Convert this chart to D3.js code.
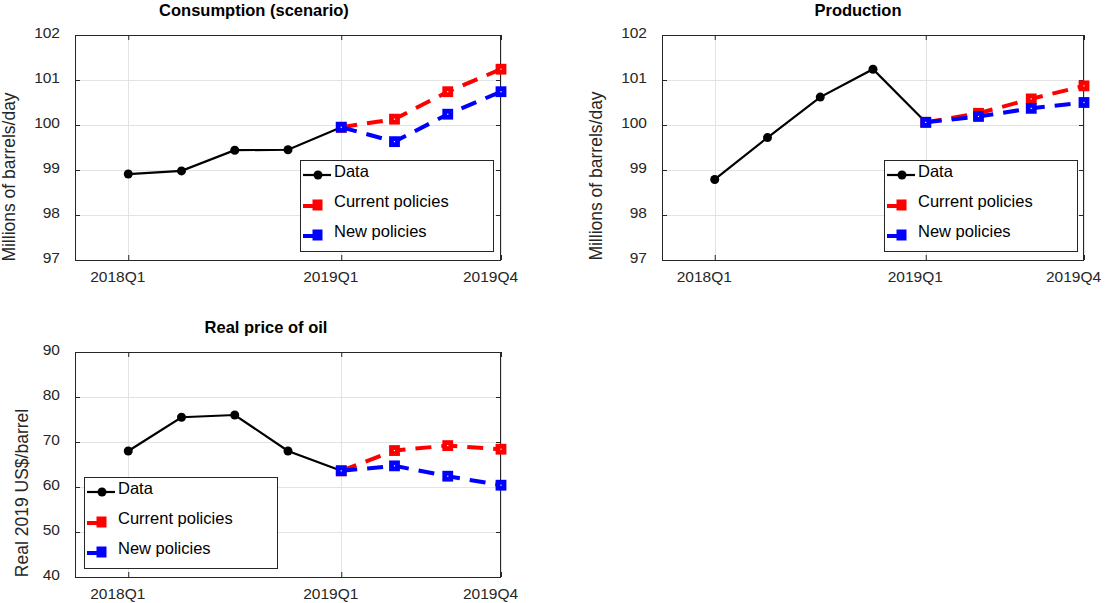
<!DOCTYPE html>
<html>
<head>
<meta charset="utf-8">
<script src="https://cdn.jsdelivr.net/npm/d3@7"></script>
<style>
  html, body { margin: 0; padding: 0; background: #fff; }
  svg { display: block; font-family: "Liberation Sans", Arial, sans-serif; }
</style>
</head>
<body>
<svg id="chart" width="1115" height="603"></svg>
<script>
// ---------- data ----------
const quarters = ["2018Q1","2018Q2","2018Q3","2018Q4","2019Q1","2019Q2","2019Q3","2019Q4"];
const dataQuarters = ["2018Q1","2018Q2","2018Q3","2018Q4","2019Q1"];
const scenarioQuarters = ["2019Q1","2019Q2","2019Q3","2019Q4"];
const xTickLabels = ["2018Q1","2019Q1","2019Q4"];
const seriesNames = ["Data","Current policies","New policies"];

const consumptionData    = [98.91, 98.98, 99.44, 99.45, 99.95];
const consumptionCurrent = [99.95, 100.13, 100.74, 101.24];
const consumptionNew     = [99.95, 99.63, 100.24, 100.74];

const productionData    = [98.79, 99.72, 100.62, 101.24, 100.06];
const productionCurrent = [100.06, 100.26, 100.58, 100.87];
const productionNew     = [100.06, 100.19, 100.37, 100.50];

const priceData    = [68.0, 75.5, 76.0, 68.0, 63.6];
const priceCurrent = [63.6, 68.1, 69.2, 68.4];
const priceNew     = [63.6, 64.7, 62.4, 60.4];

const volumeTicks = [97, 98, 99, 100, 101, 102];
const priceTicks  = [40, 50, 60, 70, 80, 90];

// ---------- layout ----------
const panels = [
  { title: "Consumption (scenario)", ylabel: "Millions of barrels/day",
    data: consumptionData, current: consumptionCurrent, fresh: consumptionNew,
    yTicks: volumeTicks,
    box: {l: 75, r: 501, t: 35, b: 260},
    titlePos: [254, 16], ylabelPos: [15, 177],
    legend: [300, 160] },
  { title: "Production", ylabel: "Millions of barrels/day",
    data: productionData, current: productionCurrent, fresh: productionNew,
    yTicks: volumeTicks,
    box: {l: 662, r: 1084, t: 35, b: 260},
    titlePos: [858, 16], ylabelPos: [602, 176],
    legend: [884, 160] },
  { title: "Real price of oil", ylabel: "Real 2019 US$/barrel",
    data: priceData, current: priceCurrent, fresh: priceNew,
    yTicks: priceTicks,
    box: {l: 75, r: 501, t: 352, b: 577},
    titlePos: [266, 332.5], ylabelPos: [28, 493],
    legend: [84, 477] }
];

const svg = d3.select("#chart");
const axisColor = "#262626";
const gridColor = "#e3e3e3";
const red = "#ff0000", blue = "#0000ff";

function drawPanel(p) {
  const b = p.box;
  const x = d3.scaleLinear().domain([-1, quarters.length - 1]).range([b.l, b.r]);
  const y = d3.scaleLinear().domain(d3.extent(p.yTicks)).range([b.b, b.t]);
  const xi = q => x(quarters.indexOf(q));
  const g = svg.append("g");

  // grid
  g.selectAll(".hg").data(p.yTicks).join("line")
    .attr("x1", b.l).attr("x2", b.r)
    .attr("y1", d => Math.round(y(d)) + 0.5).attr("y2", d => Math.round(y(d)) + 0.5)
    .attr("stroke", gridColor).attr("stroke-width", 1);
  g.selectAll(".vg").data(xTickLabels).join("line")
    .attr("x1", d => Math.round(xi(d)) + 0.5).attr("x2", d => Math.round(xi(d)) + 0.5)
    .attr("y1", b.t).attr("y2", b.b)
    .attr("stroke", gridColor).attr("stroke-width", 1);

  // axes via d3 axis generators (inside ticks, MATLAB style)
  const yAxisL = d3.axisLeft(y).tickValues(p.yTicks).tickSize(-5).tickFormat("");
  const yAxisR = d3.axisRight(y).tickValues(p.yTicks).tickSize(-5).tickFormat("");
  const xAxisB = d3.axisBottom(x).tickValues(xTickLabels.map(q => quarters.indexOf(q))).tickSize(-5).tickFormat("");
  const xAxisT = d3.axisTop(x).tickValues(xTickLabels.map(q => quarters.indexOf(q))).tickSize(-5).tickFormat("");
  [[yAxisL, `translate(${b.l},0)`], [yAxisR, `translate(${b.r},0)`],
   [xAxisB, `translate(0,${b.b})`], [xAxisT, `translate(0,${b.t})`]].forEach(([ax, tr]) => {
    const a = g.append("g").attr("transform", tr).call(ax);
    a.select(".domain").remove();
    a.selectAll("line").attr("stroke", axisColor).attr("stroke-width", 1);
  });
  // box
  g.append("rect").attr("x", b.l + 0.5).attr("y", b.t + 0.5)
    .attr("width", b.r - b.l - 1).attr("height", b.b - b.t)
    .attr("fill", "none").attr("stroke", axisColor).attr("stroke-width", 1);

  // tick labels
  g.selectAll(".yl").data(p.yTicks).join("text")
    .attr("x", b.l - 15).attr("y", d => y(d) + 3)
    .attr("text-anchor", "end").attr("font-size", 15.5).attr("fill", axisColor)
    .text(d => d);
  g.selectAll(".xl").data(xTickLabels).join("text")
    .attr("x", d => xi(d) - 10.5).attr("y", b.b + 22)
    .attr("text-anchor", "middle").attr("font-size", 15.5).attr("fill", axisColor)
    .text(d => d);

  // title and y label
  g.append("text").attr("x", p.titlePos[0]).attr("y", p.titlePos[1])
    .attr("text-anchor", "middle").attr("font-size", 16.5).attr("font-weight", "bold")
    .attr("fill", "#000").text(p.title);
  g.append("text")
    .attr("transform", `translate(${p.ylabelPos[0]},${p.ylabelPos[1]}) rotate(-90)`)
    .attr("text-anchor", "middle").attr("font-size", 17.5).attr("fill", axisColor)
    .text(p.ylabel);

  // series
  const line = d3.line().x(d => xi(d.q)).y(d => y(d.v));
  const dataPts = dataQuarters.map((q, i) => ({q, v: p.data[i]}));
  g.append("path").datum(dataPts).attr("d", line)
    .attr("fill", "none").attr("stroke", "#000").attr("stroke-width", 2.2);
  g.selectAll(".dot").data(dataPts).join("circle")
    .attr("cx", d => xi(d.q)).attr("cy", d => y(d.v)).attr("r", 4.5).attr("fill", "#000");

  [[p.current, red], [p.fresh, blue]].forEach(([vals, col]) => {
    const pts = scenarioQuarters.map((q, i) => ({q, v: vals[i]}));
    g.append("path").datum(pts).attr("d", line)
      .attr("fill", "none").attr("stroke", col).attr("stroke-width", 4)
      .attr("stroke-dasharray", "16,10");
    g.selectAll(null).data(pts).join("rect")
      .attr("x", d => xi(d.q) - 3).attr("y", d => y(d.v) - 3)
      .attr("width", 6).attr("height", 6)
      .attr("fill", "#fff").attr("stroke", col).attr("stroke-width", 4.8);
  });

  // legend
  const [lx, ly] = p.legend;
  const lg = g.append("g").attr("transform", `translate(${lx},${ly})`);
  lg.append("rect").attr("x", 0.5).attr("y", 0.5).attr("width", 193).attr("height", 91)
    .attr("fill", "#fff").attr("stroke", axisColor).attr("stroke-width", 1);
  const rows = [15, 45, 75];
  // Data
  lg.append("line").attr("x1", 3).attr("x2", 31).attr("y1", rows[0]).attr("y2", rows[0])
    .attr("stroke", "#000").attr("stroke-width", 2.2);
  lg.append("circle").attr("cx", 18).attr("cy", rows[0]).attr("r", 4.5).attr("fill", "#000");
  [[red, rows[1]], [blue, rows[2]]].forEach(([col, ry]) => {
    lg.append("line").attr("x1", 3).attr("x2", 18).attr("y1", ry + 1).attr("y2", ry + 1)
      .attr("stroke", col).attr("stroke-width", 4);
    lg.append("rect").attr("x", 14).attr("y", ry - 4).attr("width", 7).attr("height", 8)
      .attr("fill", col).attr("stroke", col).attr("stroke-width", 3);
  });
  lg.selectAll(".lt").data(seriesNames).join("text")
    .attr("x", 34).attr("y", (d, i) => rows[i] + 1.5 + (i === 0 ? 0.5 : 0))
    .attr("font-size", 16.5).attr("fill", "#000")
    .text(d => d);
}

panels.forEach(drawPanel);
</script>
</body>
</html>
